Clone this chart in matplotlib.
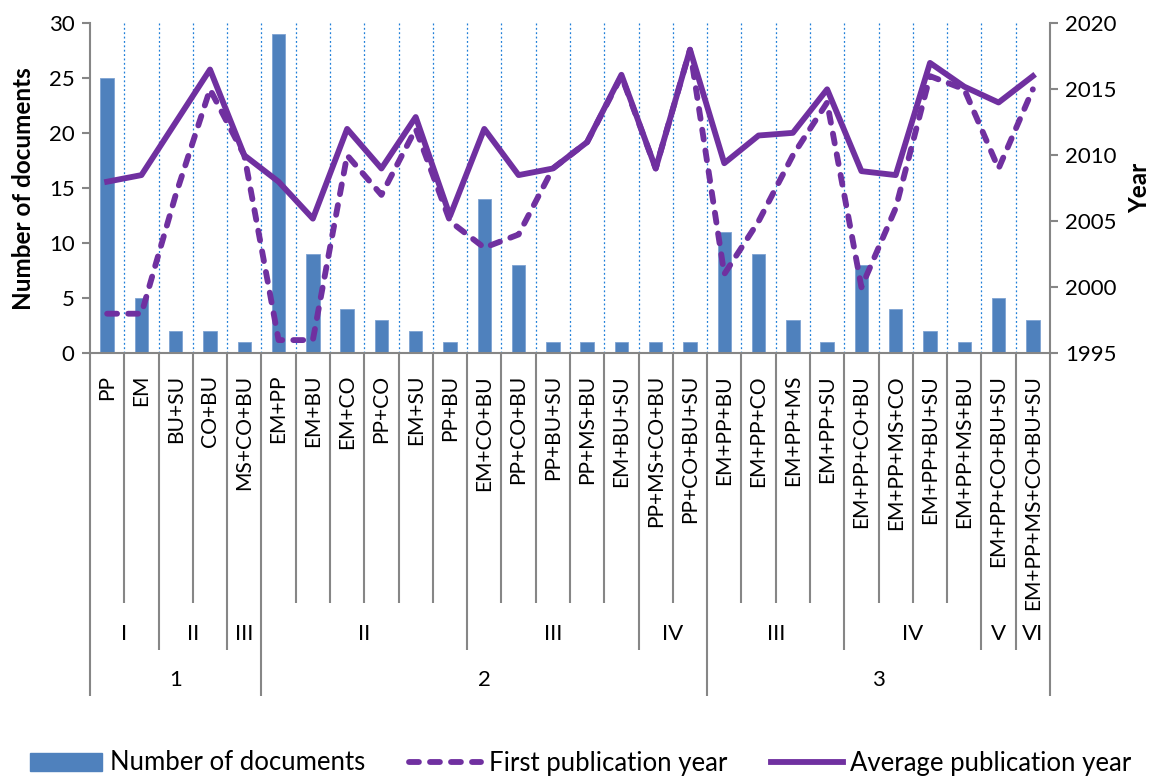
import matplotlib
matplotlib.use("Agg")
import matplotlib.pyplot as plt
from matplotlib.patches import Patch
from matplotlib.lines import Line2D

plt.rcParams["font.family"] = ["Lato", "DejaVu Sans"]

categories = ["PP", "EM", "BU+SU", "CO+BU", "MS+CO+BU",
              "EM+PP", "EM+BU", "EM+CO", "PP+CO", "EM+SU", "PP+BU",
              "EM+CO+BU", "PP+CO+BU", "PP+BU+SU", "PP+MS+BU", "EM+BU+SU",
              "PP+MS+CO+BU", "PP+CO+BU+SU",
              "EM+PP+BU", "EM+PP+CO", "EM+PP+MS", "EM+PP+SU",
              "EM+PP+CO+BU", "EM+PP+MS+CO", "EM+PP+BU+SU", "EM+PP+MS+BU",
              "EM+PP+CO+BU+SU", "EM+PP+MS+CO+BU+SU"]
n_docs = [25, 5, 2, 2, 1,
          29, 9, 4, 3, 2, 1,
          14, 8, 1, 1, 1,
          1, 1,
          11, 9, 3, 1,
          8, 4, 2, 1,
          5, 3]
first_year = [1998, 1998, 2007, 2015, 2010,
              1996, 1996, 2010, 2007, 2012, 2005,
              2003, 2004, 2009, 2011, 2016,
              2009, 2018,
              2001, 2005, 2010, 2014,
              2000, 2006, 2016, 2015,
              2009, 2015]
avg_year = [2008.0, 2008.5, 2012.5, 2016.5, 2010.0,
            2008.0, 2005.2, 2012.0, 2009.0, 2012.9, 2005.4,
            2012.0, 2008.5, 2009.0, 2011.0, 2016.1,
            2009.0, 2018.0,
            2009.4, 2011.5, 2011.7, 2015.0,
            2008.8, 2008.5, 2017.0, 2015.2,
            2014.0, 2016.0]
level2 = [("I", 2), ("II", 2), ("III", 1), ("II", 6), ("III", 5), ("IV", 2),
          ("III", 4), ("IV", 4), ("V", 1), ("VI", 1)]
level1 = [("1", 5), ("2", 13), ("3", 10)]

W, H = 1162, 776
fig = plt.figure(figsize=(W / 100, H / 100), dpi=100)
x0, x1, ytop, ybot = 90, 1050, 23.3, 353.3
ax = fig.add_axes([x0 / W, 1 - ybot / H, (x1 - x0) / W, (ybot - ytop) / H])
ax2 = ax.twinx()

gray = "#868686"
bar_c = "#4F81BD"
line_c = "#7030A0"
fs = 16
lw = 4.2
dash = (0, (1.7, 1.9))

x = list(range(len(categories)))
ax.bar(x, n_docs, width=0.39, color=bar_c, edgecolor="#7EA3D3", linewidth=0.6, zorder=2)
ax.set_xlim(-0.5, len(categories) - 0.5)
ax.set_ylim(0, 30)
ax.set_yticks(range(0, 31, 5))
ax.vlines([k - 0.5 for k in range(1, len(categories))], 0, 30, colors="#1F7FD8",
          linestyles=(0, (1.5, 2)), linewidth=0.9, zorder=1)

ax2.plot(x, first_year, color=line_c, lw=lw, ls=dash,
         dash_capstyle="round", zorder=3)
ax2.plot(x, avg_year, color=line_c, lw=lw, zorder=4)
ax2.set_ylim(1995, 2020)
ax2.set_yticks(range(1995, 2021, 5))

for a in (ax, ax2):
    a.spines["top"].set_visible(False)
    for s in ("left", "right", "bottom"):
        a.spines[s].set_color(gray)
        a.spines[s].set_linewidth(1.5)
    a.tick_params(axis="y", colors=gray, labelcolor="black", labelsize=fs,
                  length=6, width=1.5, direction="out", pad=5)
ax.spines["right"].set_visible(False)
ax2.spines["left"].set_visible(False)
ax2.spines["bottom"].set_visible(False)
ax.set_xticks([])

ax.set_ylabel("Number of documents", fontsize=17.5, fontweight="bold", labelpad=10)
ax2.set_ylabel("Year", fontsize=17.5, fontweight="bold", labelpad=8)

# multi-level category axis drawn below the plot
ph = ybot - ytop
def fy(py):
    return (ybot - py) / ph

tr = ax.get_xaxis_transform()
for k, lab in enumerate(categories):
    ax.text(k, fy(375), lab, rotation=90, ha="center", va="top",
            fontsize=15.1, transform=tr)

b1, b2 = {0}, set()
pos = 0
for _, c in level1:
    pos += c
    b1.add(pos)
pos = 0
for lab, c in level2:
    ax.text(pos + c / 2 - 0.5, fy(634), lab, ha="center", va="center",
            fontsize=fs, transform=tr)
    pos += c
    b2.add(pos)
pos = 0
for lab, c in level1:
    ax.text(pos + c / 2 - 0.5, fy(680), lab, ha="center", va="center",
            fontsize=fs, transform=tr)
    pos += c

for j in range(len(categories) + 1):
    if j in b1:
        low = fy(696)
    elif j in b2:
        low = fy(650)
    else:
        low = fy(603)
    ax.plot([j - 0.5, j - 0.5], [0, low], color=gray, lw=1.5,
            transform=tr, clip_on=False, solid_capstyle="butt")

handles = [Patch(facecolor=bar_c, edgecolor=bar_c),
           Line2D([], [], color=line_c, lw=lw, ls=dash, dash_capstyle="round"),
           Line2D([], [], color=line_c, lw=lw)]
labels = ["Number of documents", "First publication year", "Average publication year"]
fig.legend(handles, labels, loc="center", bbox_to_anchor=(0.5, 1 - 763 / H), ncol=3,
           frameon=False, fontsize=18.5, handlelength=2.8, handleheight=0.7,
           columnspacing=1.7, handletextpad=0.3, borderpad=0)

fig.savefig("out.png", dpi=100)
